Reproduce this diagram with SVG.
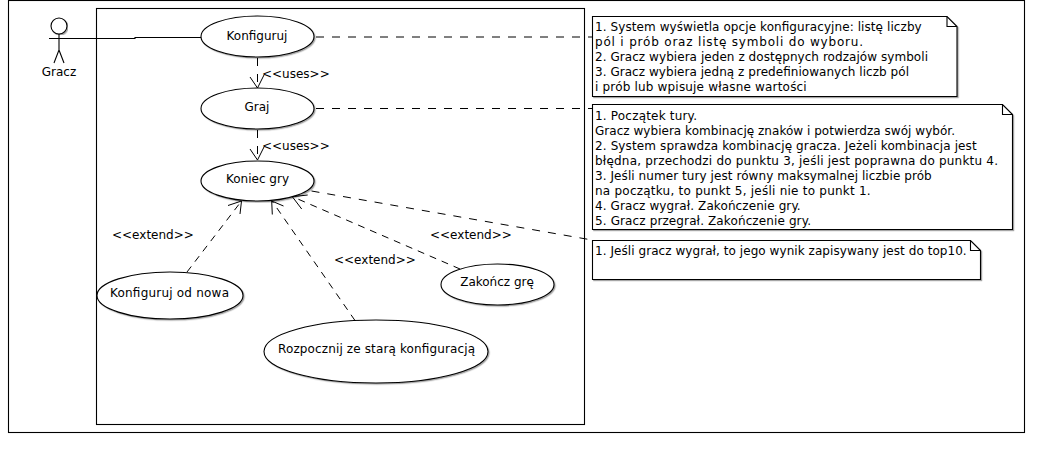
<svg xmlns="http://www.w3.org/2000/svg" width="1054" height="470" viewBox="0 0 1054 470">
<style>
text{font-family:"DejaVu Sans",sans-serif;font-size:12px;fill:#000}
.c{text-anchor:middle}
.s{fill:#fff;stroke:#000;stroke-width:1.1;filter:url(#shadow)}
.n{fill:none;stroke:#000;stroke-width:1.1}
.d{fill:none;stroke:#000;stroke-width:1;stroke-dasharray:8 8}
.e{fill:none;stroke:#000;stroke-width:1;stroke-dasharray:7 6}
.a{fill:none;stroke:#000;stroke-width:1}
</style>
<defs>
<filter id="shadow" x="-5%" y="-5%" width="110%" height="110%"><feDropShadow dx="1.2" dy="1.2" stdDeviation="0.6" flood-color="#000" flood-opacity="0.35"/></filter>
</defs>
<rect width="1054" height="470" fill="#fff"/>
<g id="frame"><rect class="n" x="8.5" y="0.5" width="1016" height="432"/></g>
<g id="system"><rect class="n" x="96.5" y="8.5" width="488" height="416"/></g>
<g id="connectors">
<polyline class="n" points="59,38.5 135,38.5 135,37.5 201,37.5"/>
<line class="d" x1="316" y1="37" x2="592" y2="37"/>
<line class="d" x1="316" y1="108.5" x2="592" y2="108.5"/>
<line class="d" x1="311.5" y1="191" x2="592" y2="240"/>
<line class="d" x1="257.5" y1="58" x2="257.5" y2="88"/>
<polyline class="a" points="250,77 257.5,88 264,75"/>
<line class="d" x1="257.5" y1="130" x2="257.5" y2="160"/>
<polyline class="a" points="250,149 257.5,160 264,147"/>
<line class="e" x1="187" y1="272" x2="241.5" y2="201"/>
<polyline class="a" points="228,205.5 241.5,201 240,214"/>
<line class="e" x1="355" y1="320.5" x2="272" y2="201"/>
<polyline class="a" points="283.5,206 271.7,201 272.3,214.5"/>
<line class="e" x1="460" y1="269" x2="292.5" y2="196.7"/>
<polyline class="a" points="307.7,195 292.3,196.7 301.7,209"/>
<text x="262" y="78">&lt;&lt;uses&gt;&gt;</text>
<text x="262" y="150">&lt;&lt;uses&gt;&gt;</text>
<text x="112" y="239">&lt;&lt;extend&gt;&gt;</text>
<text x="334" y="264">&lt;&lt;extend&gt;&gt;</text>
<text x="430" y="239">&lt;&lt;extend&gt;&gt;</text>
</g>
<g id="actor-gracz">
<circle class="s" cx="59" cy="26" r="8"/>
<path class="n" d="M49,38.5H71M59,34V50L54,63M59,50L64,63"/>
<text class="c" x="59" y="76">Gracz</text>
</g>
<g id="uc-konfiguruj"><ellipse class="s" cx="257.5" cy="36.5" rx="56.5" ry="20.5"/><text class="c" x="257" y="39.5">Konfiguruj</text></g>
<g id="uc-graj"><ellipse class="s" cx="257.5" cy="108.5" rx="56.5" ry="20.5"/><text class="c" x="257" y="111">Graj</text></g>
<g id="uc-koniec"><ellipse class="s" cx="257.5" cy="181" rx="56.5" ry="20"/><text class="c" x="257.5" y="183" textLength="63">Koniec gry</text></g>
<g id="uc-konfiguruj-od-nowa"><ellipse class="s" cx="170" cy="295.5" rx="73" ry="23.5"/><text class="c" x="169.5" y="297" textLength="119">Konfiguruj od nowa</text></g>
<g id="uc-zakoncz"><ellipse class="s" cx="497.5" cy="284.5" rx="56.5" ry="20.5"/><text class="c" x="497" y="286">Zakończ grę</text></g>
<g id="uc-rozpocznij"><ellipse class="s" cx="376" cy="351.5" rx="112" ry="31.5"/><text class="c" x="376.5" y="353" textLength="197">Rozpocznij ze starą konfiguracją</text></g>
<g id="note-1">
<path class="s" d="M592.5,16.5H947L957,26.5V96.5H592.5Z"/><path class="n" d="M947,16.5V26.5H957"/>
<text x="595" y="31" textLength="326.7">1. System wyświetla opcje konfiguracyjne: listę liczby</text>
<text x="595" y="46" textLength="268">pól i prób oraz listę symboli do wyboru.</text>
<text x="595" y="61" textLength="333">2. Gracz wybiera jeden z dostępnych rodzajów symboli</text>
<text x="595" y="76" textLength="314">3. Gracz wybiera jedną z predefiniowanych liczb pól</text>
<text x="595" y="91" textLength="211.7">i prób lub wpisuje własne wartości</text>
</g>
<g id="note-2">
<path class="s" d="M592.5,104.5H1002.5L1012.5,114.5V229.5H592.5Z"/><path class="n" d="M1002.5,104.5V114.5H1012.5"/>
<text x="595" y="120" textLength="102">1. Początek tury.</text>
<text x="595" y="135" textLength="360">Gracz wybiera kombinację znaków i potwierdza swój wybór.</text>
<text x="595" y="150" textLength="381.7">2. System sprawdza kombinację gracza. Jeżeli kombinacja jest</text>
<text x="595" y="165" textLength="403">błędna, przechodzi do punktu 3, jeśli jest poprawna do punktu 4.</text>
<text x="595" y="180" textLength="336.7">3. Jeśli numer tury jest równy maksymalnej liczbie prób</text>
<text x="595" y="195" textLength="275.7">na początku, to punkt 5, jeśli nie to punkt 1.</text>
<text x="595" y="210" textLength="205.7">4. Gracz wygrał. Zakończenie gry.</text>
<text x="595" y="225" textLength="216">5. Gracz przegrał. Zakończenie gry.</text>
</g>
<g id="note-3">
<path class="s" d="M592.5,240.5H970.5L980.5,250.5V279.5H592.5Z"/><path class="n" d="M970.5,240.5V250.5H980.5"/>
<text x="595" y="255" textLength="371.7">1. Jeśli gracz wygrał, to jego wynik zapisywany jest do top10.</text>
</g>
</svg>
